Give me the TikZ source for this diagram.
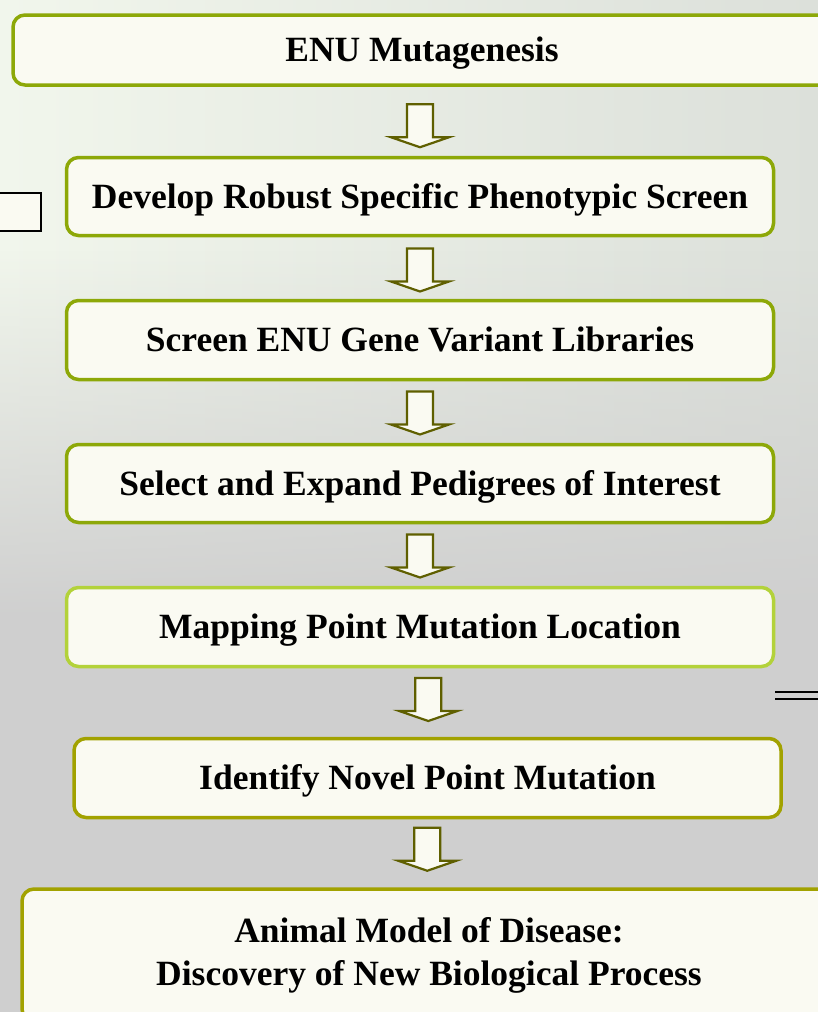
\documentclass[tikz,border=0pt]{standalone}
\usepackage{fontspec}
\setmainfont{Liberation Serif}
\usetikzlibrary{calc,fadings}
\definecolor{bgleft}{HTML}{F1F6EC}
\definecolor{bgright}{HTML}{DCE0DA}
\definecolor{bgbot}{HTML}{CFCFCF}
\definecolor{boxfill}{HTML}{FAFAF2}
\definecolor{grn}{HTML}{8DA808}
\definecolor{lgrn}{HTML}{B3D23A}
\definecolor{oliv}{HTML}{A2A200}
\definecolor{arr}{HTML}{5F5F00}
\tikzset{
  x=1pt, y=-1pt,
  stepbox/.style={draw=grn, line width=3.5pt, fill=boxfill, rounded corners=12pt,
     font=\fontsize{35.5}{43}\selectfont\bfseries, align=center, inner sep=0pt},
  oneline/.style={text height=23pt, text depth=0pt},
  downarrow/.pic={
    \draw[arr, line width=2.2pt, fill=boxfill, line join=miter]
      (-13,-21.5) -- (13,-21.5) -- (13,11.5) -- (29,11.5) -- (0,21.5) -- (-29,11.5) -- (-13,11.5) -- cycle;
  }
}
\begin{document}
\begin{tikzpicture}
\useasboundingbox (0,0) rectangle (818,1012);
\begin{scope}
\clip (0,0) rectangle (818,1012);
\shade[left color=bgleft, right color=bgright] (0,0) rectangle (818,1012);
\fill[bgbot, path fading=north] (0,250) rectangle (818,620);
\fill[bgbot] (0,619) rectangle (818,1012);
% decorative photo remnants
\node[draw=black, line width=2pt, fill=boxfill, minimum width=60pt, minimum height=38pt, inner sep=0pt] (lbox) at (11,211.5) {};
\coordinate (dl1) at (775,692);
\coordinate (dr1) at (820,692);
\coordinate (dl2) at (775,699);
\coordinate (dr2) at (820,699);
\draw[black, line width=1.3pt] (dl1) -- (dr1);
\draw[black, line width=1.3pt] (dl2) -- (dr2);
% boxes
\node[stepbox, oneline, minimum width=818pt, minimum height=70pt] (n1) at (422,50) {ENU Mutagenesis};
\node[stepbox, oneline, minimum width=707pt, minimum height=78pt] (n2) at (420,196.5) {Develop Robust Specific Phenotypic Screen};
\node[stepbox, oneline, minimum width=707pt, minimum height=79pt] (n3) at (420,340) {Screen ENU Gene Variant Libraries};
\node[stepbox, oneline, minimum width=707pt, minimum height=78pt] (n4) at (420,483.5) {Select and Expand Pedigrees of Interest};
\node[stepbox, oneline, draw=lgrn, minimum width=707pt, minimum height=79pt] (n5) at (420,627) {Mapping Point Mutation Location};
\node[stepbox, oneline, draw=oliv, minimum width=707pt, minimum height=79pt] (n6) at (427.5,778) {Identify Novel Point Mutation};
\node[stepbox, draw=oliv, minimum width=814pt, minimum height=132pt] (n7) at (429,955) {Animal Model of Disease:\\Discovery of New Biological Process};
% arrows
\pic at ($($(n1.south)!0.5!(n2.north)$)+(-1,4.5)$) {downarrow};
\pic at ($($(n2.south)!0.5!(n3.north)$)+(0,2)$) {downarrow};
\pic at ($($(n3.south)!0.5!(n4.north)$)+(0,1)$) {downarrow};
\pic at ($($(n4.south)!0.5!(n5.north)$)+(0,1)$) {downarrow};
\pic at ($($(n5.south)!0.5!(n6.north)$)+(4.5,-3)$) {downarrow};
\pic at ($($(n6.south)!0.5!(n7.north)$)+(-1,-4)$) {downarrow};
\end{scope}
\end{tikzpicture}
\end{document}
